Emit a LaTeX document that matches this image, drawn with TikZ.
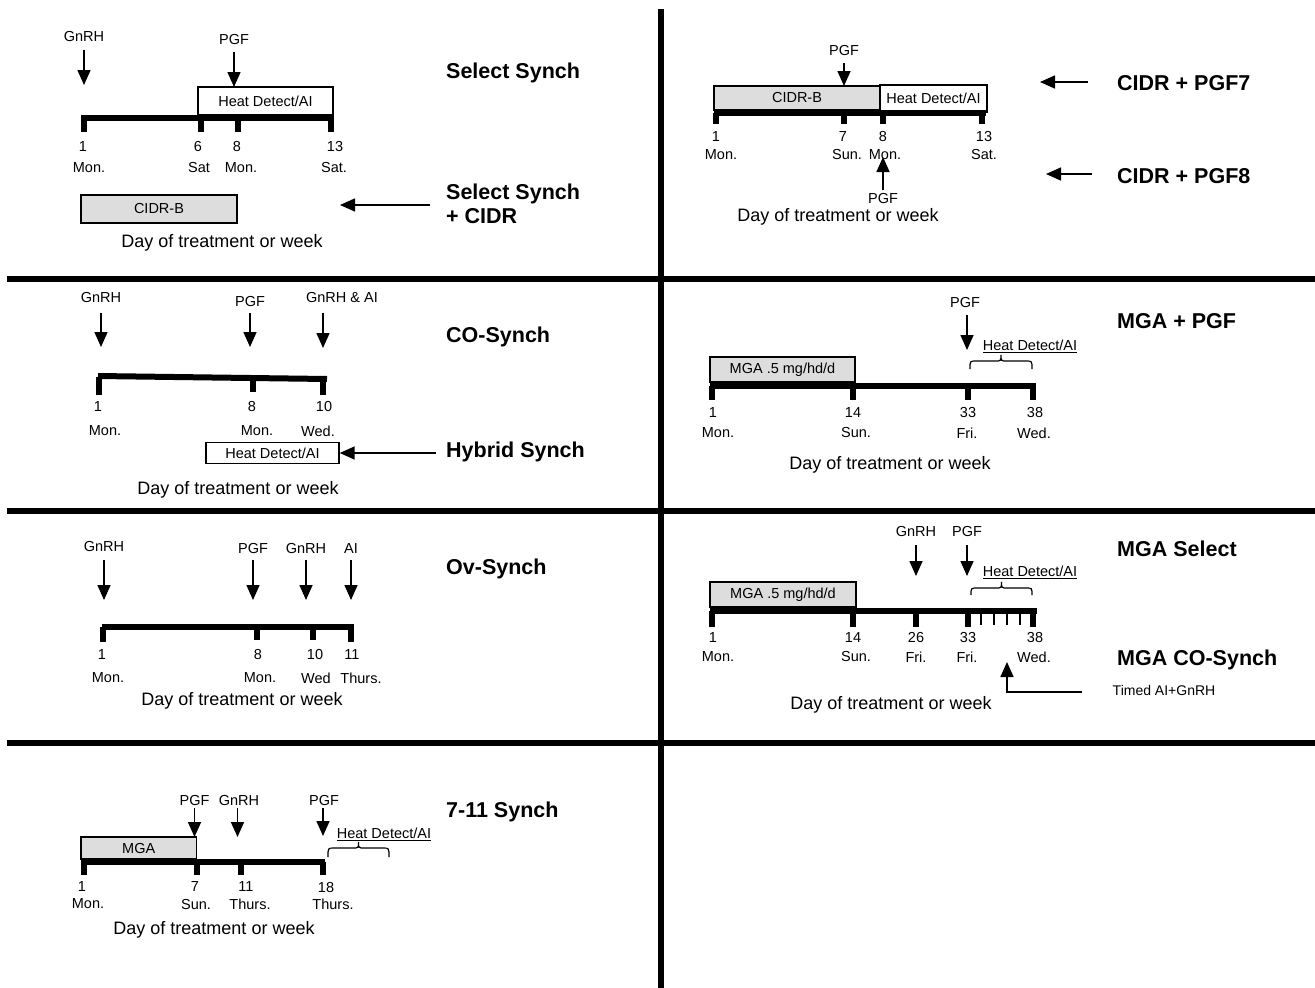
\documentclass[tikz,border=0pt]{standalone}
\usepackage{fontspec}
\setmainfont{Liberation Sans}
\usetikzlibrary{arrows.meta}
\tikzset{
  lab/.style={font=\fontsize{14.5}{16}\selectfont, inner sep=0pt},
  day/.style={font=\fontsize{18}{20}\selectfont, inner sep=0pt},
  ttl/.style={font=\bfseries\fontsize{21.5}{24}\selectfont, inner sep=0pt, anchor=west},
  arr/.style={line width=1.6pt, -{Triangle[width=13pt,length=15pt]}},
  bar/.style={line width=6pt},
  tk/.style={line width=6pt},
  stk/.style={line width=1.2pt},
  divline/.style={line width=6pt},
  wbox/.style={draw, line width=1.4pt, inner sep=0pt, font=\fontsize{14.5}{16}\selectfont},
  gbox/.style={wbox, fill=gray!27},
  brc/.style={line width=1.2pt},
}
\newcommand{\mybrace}[4]{%
  \pgfmathsetmacro{\bxm}{(#1+#2)/2}%
  \pgfmathsetmacro{\bym}{#4+6}%
  \draw[brc] (#1,#3) .. controls (#1,\bym) and (#1,\bym) .. (#1+6,\bym) -- (\bxm-6,\bym)
    .. controls (\bxm,\bym) and (\bxm,\bym) .. (\bxm,#4)
    .. controls (\bxm,\bym) and (\bxm,\bym) .. (\bxm+6,\bym) -- (#2-6,\bym)
    .. controls (#2,\bym) and (#2,\bym) .. (#2,#3);}
\begin{document}
\begin{tikzpicture}[x=1pt,y=-1pt]
\useasboundingbox (0,0) rectangle (1315,988);
% dividers
\draw[divline] (660.5,9) -- (660.5,988);
\draw[divline] (7,279) -- (1315,279);
\draw[divline] (7,511) -- (1315,511);
\draw[divline] (7,743) -- (1315,743);

% ===== Panel 1: Select Synch =====
\node[lab] (p1g) at (84,37) {GnRH};
\draw[arr] (84,50) -- (84,85);
\node[lab] (p1p) at (234,40) {PGF};
\draw[arr] (234,52) -- (234,87);
\node[wbox, minimum width=135pt, minimum height=28pt] (p1hd) at (265.5,101) {Heat Detect/AI};
\draw[bar] (81,118) -- (334,118);
\foreach \x in {84,201,238,331} \draw[tk] (\x,118) -- (\x,132);
\node[lab] (p1n1) at (83,147) {1};
\node[lab] (p1n2) at (198,147) {6};
\node[lab] (p1n3) at (237,147) {8};
\node[lab] (p1n4) at (335,147) {13};
\node[lab] (p1d1) at (89,168) {Mon.};
\node[lab] (p1d2) at (199,168) {Sat};
\node[lab] (p1d3) at (241,168) {Mon.};
\node[lab] (p1d4) at (334,168) {Sat.};
\node[gbox, minimum width=156pt, minimum height=28pt] (p1c) at (159,209) {CIDR-B};
\coordinate (p1a) at (430,205);
\draw[arr] (p1a) -- (340,205);
\node[day] (p1day) at (222,243) {Day of treatment or week};
\node[ttl] (t1) at (446,73) {Select Synch};
\node[ttl, align=left] (t2) at (446,204) {Select Synch\\+ CIDR};

% ===== Panel 2: CIDR + PGF =====
\node[lab] (p2p) at (844,51) {PGF};
\draw[arr] (844,63) -- (844,86);
\node[gbox, minimum width=166pt, minimum height=24pt] (p2c) at (797,98) {CIDR-B};
\node[wbox, minimum width=107pt, minimum height=27pt] (p2hd) at (933.5,98.5) {Heat Detect/AI};
\draw[bar] (714,112.5) -- (986,112.5);
\foreach \x in {716,844,883,982} \draw[tk] (\x,112.5) -- (\x,124);
\node[lab] at (716,137) {1};
\node[lab] at (843,137) {7};
\node[lab] at (883,137) {8};
\node[lab] at (984,137) {13};
\node[lab] at (721,155) {Mon.};
\node[lab] at (847,155) {Sun.};
\node[lab] at (885,155) {Mon.};
\node[lab] at (984,155) {Sat.};
\node[lab] (p2p2) at (883,199) {PGF};
\draw[arr] (883,190) -- (883,157);
\node[day] (p2day) at (838,217) {Day of treatment or week};
\node[ttl] (t3) at (1117,83) {CIDR + PGF7};
\node[ttl] (t4) at (1117,176) {CIDR + PGF8};
\draw[arr] (1088,82) -- (1040,82);
\draw[arr] (1092,174) -- (1046,174);

% ===== Panel 3: CO-Synch =====
\node[lab] (p3g) at (101,298) {GnRH};
\draw[arr] (101,313) -- (101,347);
\node[lab] (p3p) at (250,302) {PGF};
\draw[arr] (250,313) -- (250,347);
\node[lab] (p3ga) at (342,298) {GnRH \& AI};
\draw[arr] (323,313) -- (323,348);
\draw[bar] (98,376) -- (327,379);
\draw[tk] (99,376.5) -- (99,395);
\draw[tk] (252.5,378) -- (252.5,392);
\draw[tk] (323,379) -- (323,395);
\node[lab] at (98,407) {1};
\node[lab] at (252,407) {8};
\node[lab] at (324,407) {10};
\node[lab] at (105,431) {Mon.};
\node[lab] at (257,431) {Mon.};
\node[lab] at (318,431) {Wed.};
\node[wbox, minimum width=133pt, minimum height=21pt] (p3hd) at (272.5,453) {Heat Detect/AI};
\draw[arr] (436,453) -- (p3hd.east);
\node[ttl] (t5) at (446,337) {CO-Synch};
\node[ttl] (t6) at (446,452) {Hybrid Synch};
\node[day] (p3day) at (238,490) {Day of treatment or week};

% ===== Panel 4: MGA + PGF =====
\node[lab] (p4p) at (965,303) {PGF};
\draw[arr] (967,315) -- (967,350);
\node[lab] (p4hd) at (1030,346) {\underline{Heat Detect/AI}};
\mybrace{970}{1032}{369}{355}
\node[gbox, minimum width=145pt, minimum height=25pt] (p4m) at (782.5,369.5) {MGA .5 mg/hd/d};
\draw[bar] (710,385.5) -- (1036,385.5);
\foreach \x in {712,853,968,1033} \draw[tk] (\x,385.5) -- (\x,400);
\node[lab] at (713,413) {1};
\node[lab] at (853,413) {14};
\node[lab] at (968,413) {33};
\node[lab] at (1035,413) {38};
\node[lab] at (718,433) {Mon.};
\node[lab] at (856,433) {Sun.};
\node[lab] at (967,433) {Fri.};
\node[lab] at (1034,433) {Wed.};
\node[day] (p4day) at (890,465) {Day of treatment or week};
\node[ttl] (t7) at (1117,321) {MGA + PGF};

% ===== Panel 5: Ov-Synch =====
\node[lab] (p5g) at (104,547) {GnRH};
\draw[arr] (104,560) -- (104,600);
\node[lab] (p5p) at (253,549) {PGF};
\draw[arr] (253,560) -- (253,600);
\node[lab] (p5g2) at (306,549) {GnRH};
\draw[arr] (306,560) -- (306,600);
\node[lab] (p5a) at (351,549) {AI};
\draw[arr] (351,560) -- (351,600);
\draw[bar] (102,627) -- (354,627);
\draw[tk] (103,627) -- (103,642);
\draw[tk] (257,627) -- (257,640);
\draw[tk] (313,627) -- (313,640);
\draw[tk] (351,627) -- (351,642);
\node[lab] at (102,655) {1};
\node[lab] at (258,655) {8};
\node[lab] at (315,655) {10};
\node[lab] at (352,655) {11};
\node[lab] at (108,678) {Mon.};
\node[lab] at (260,678) {Mon.};
\node[lab] at (316,678) {Wed};
\node[lab] at (361,678) {Thurs.};
\node[day] (p5day) at (242,701) {Day of treatment or week};
\node[ttl] (t8) at (446,569) {Ov-Synch};

% ===== Panel 6: MGA Select =====
\node[lab] (p6g) at (916,532) {GnRH};
\draw[arr] (916,545) -- (916,576);
\node[lab] (p6p) at (967,532) {PGF};
\draw[arr] (967,545) -- (967,576);
\node[lab] (p6hd) at (1030,572) {\underline{Heat Detect/AI}};
\mybrace{971}{1032}{595}{582}
\node[gbox, minimum width=146pt, minimum height=25pt] (p6m) at (783,594.5) {MGA .5 mg/hd/d};
\draw[bar] (710,610.5) -- (1037,610.5);
\foreach \x in {712,853,916,968,1033} \draw[tk] (\x,610.5) -- (\x,627);
\foreach \x in {981,994,1007,1020} \draw[stk] (\x,612) -- (\x,625);
\node[lab] at (713,638) {1};
\node[lab] at (853,638) {14};
\node[lab] at (916,638) {26};
\node[lab] at (968,638) {33};
\node[lab] at (1035,638) {38};
\node[lab] at (718,657) {Mon.};
\node[lab] at (856,657) {Sun.};
\node[lab] at (916,657) {Fri.};
\node[lab] at (967,657) {Fri.};
\node[lab] at (1034,657) {Wed.};
\node[lab, font=\fontsize{14}{16}\selectfont] (p6t) at (1164,690) {Timed AI+GnRH};
\coordinate (p6c) at (1007,692);
\draw[arr] (1082,692) -- (p6c) -- (1007,662);
\node[day] (p6day) at (891,705) {Day of treatment or week};
\node[ttl] (t9) at (1117,549) {MGA Select};
\node[ttl] (t10) at (1117,660) {MGA CO-Synch};

% ===== Panel 7: 7-11 Synch =====
\node[lab] (p7p) at (194.5,800) {PGF};
\draw[arr] (194.5,808) -- (194.5,837);
\node[lab] (p7g) at (239,800) {GnRH};
\draw[arr] (237.5,808) -- (237.5,837);
\node[lab] (p7p2) at (324,800) {PGF};
\draw[arr] (323,808) -- (323,836);
\node[lab] (p7hd) at (384,834) {\underline{Heat Detect/AI}};
\mybrace{328}{389}{857}{842}
\node[gbox, minimum width=115.5pt, minimum height=22pt] (p7m) at (138.75,848) {MGA};
\draw[bar] (81,861.5) -- (325,861.5);
\foreach \x in {84,196.5,241,323} \draw[tk] (\x,861.5) -- (\x,875);
\node[lab] at (82,887) {1};
\node[lab] at (195,887) {7};
\node[lab] at (246,887) {11};
\node[lab] at (326,887) {18};
\node[lab] at (88,904) {Mon.};
\node[lab] at (196,904) {Sun.};
\node[lab] at (250,904) {Thurs.};
\node[lab] at (333,904) {Thurs.};
\node[day] (p7day) at (214,930) {Day of treatment or week};
\node[ttl] (t11) at (446,812) {7-11 Synch};
\end{tikzpicture}
\end{document}
